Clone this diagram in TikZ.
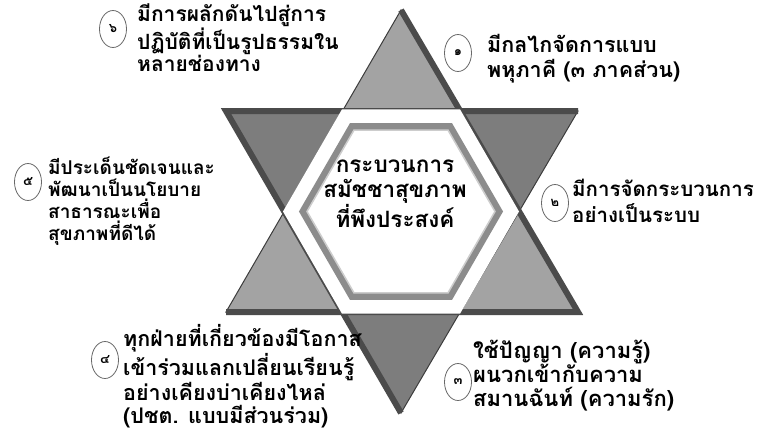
\documentclass[tikz,border=0pt]{standalone}
\usepackage{fontspec}
\usetikzlibrary{shapes.geometric,calc,positioning}
\newfontfamily\thaifont[Script=Thai]{Loma}
\definecolor{LightTri}{RGB}{163,163,163}
\definecolor{DarkTri}{RGB}{125,125,125}
\definecolor{EdgeDark}{RGB}{60,60,60}
\definecolor{BandDark}{RGB}{75,75,75}
\definecolor{FrameGray}{RGB}{140,140,140}
\definecolor{FrameLight}{RGB}{205,205,205}
\definecolor{RingGray}{RGB}{105,105,105}
\tikzset{
  numring/.style={ellipse,draw=RingGray,fill=white,line width=0.8pt,
                  minimum width=27pt,minimum height=37pt,inner sep=0pt,
                  font=\thaifont\bfseries\fontsize{13}{13}\selectfont},
  lbl/.style={anchor=base west,align=left,inner sep=0pt,
              font=\thaifont\bfseries\fontsize{20.5}{24}\selectfont},
  tri/.style={draw=EdgeDark,line width=1pt,line join=miter},
  band/.style={draw=BandDark,line width=6pt,line join=miter},
}
\begin{document}
\begin{tikzpicture}[x=1pt,y=-1pt,
    frameband/.style={draw=FrameGray,line width=7pt,line join=miter},
    core/.style={align=center,inner sep=0pt,anchor=base,
                 font=\thaifont\bfseries\fontsize{22.5}{24.5}\selectfont}
  ]
  \useasboundingbox (0,0) rectangle (757,432);
  % star corners
  \coordinate (ua) at (401,10);
  \coordinate (ul) at (226,312);
  \coordinate (ur) at (578,312);
  \coordinate (dl) at (226,111);
  \coordinate (dr) at (578,111);
  \coordinate (db) at (401,413);
  \coordinate (ctr) at (401,211.5);

  % two big triangles
  \filldraw[tri,fill=LightTri] (ua) -- (ul) -- (ur) -- cycle;
  \filldraw[tri,fill=DarkTri] (dl) -- (dr) -- (db) -- cycle;
  \draw[band] (ua) -- (ur) -- (ul);
  \draw[band] (dr) -- (dl) -- (db);

  % white centre
  \fill[white] ($(ctr)+(0:118)$) -- ($(ctr)+(60:118)$) -- ($(ctr)+(120:118)$)
    -- ($(ctr)+(180:118)$) -- ($(ctr)+(240:118)$) -- ($(ctr)+(300:118)$) -- cycle;

  % grey frame
  \draw[frameband] ($(ctr)+(0:98)$) -- ($(ctr)+(60:98)$) -- ($(ctr)+(120:98)$)
    -- ($(ctr)+(180:98)$) -- ($(ctr)+(240:98)$) -- ($(ctr)+(300:98)$) -- cycle;
  \draw[FrameLight,line width=1.5pt] ($(ctr)+(0:94)$) -- ($(ctr)+(60:94)$) -- ($(ctr)+(120:94)$)
    -- ($(ctr)+(180:94)$) -- ($(ctr)+(240:94)$) -- ($(ctr)+(300:94)$) -- cycle;

  \node[core] (title) at (395,227) {กระบวนการ\\สมัชชาสุขภาพ\\ที่พึงประสงค์};

  % numbered notes
  \node[numring] (n1) at (458,53) {๑};
  \node[lbl,font=\thaifont\bfseries\fontsize{21.5}{25}\selectfont] (t1) at (487,77) {มีกลไกจัดการแบบ\\พหุภาคี (๓ ภาคส่วน)};

  \node[numring] (n2) at (555,203) {๒};
  \node[lbl,font=\thaifont\bfseries\fontsize{20.5}{26}\selectfont] (t2) at (572,222) {มีการจัดกระบวนการ\\อย่างเป็นระบบ};

  \node[numring] (n3) at (458,382) {๓};
  \node[lbl,font=\thaifont\bfseries\fontsize{22}{24}\selectfont] (t3) at (473,406) {ใช้ปัญญา (ความรู้)\\ผนวกเข้ากับความ\\สมานฉันท์ (ความรัก)};

  \node[numring] (n4) at (105,360) {๔};
  \node[lbl,font=\thaifont\bfseries\fontsize{21.5}{23}\selectfont] (t4) at (123,423) {ทุกฝ่ายที่เกี่ยวข้องมีโอกาส\\เข้าร่วมแลกเปลี่ยนเรียนรู้\\อย่างเคียงบ่าเคียงไหล่\\(ปชต. แบบมีส่วนร่วม)};

  \node[numring] (n5) at (28,182) {๕};
  \node[lbl,font=\thaifont\bfseries\fontsize{19}{21.7}\selectfont] (t5) at (48,240) {มีประเด็นชัดเจนและ\\พัฒนาเป็นนโยบาย\\สาธารณะเพื่อ\\สุขภาพที่ดีได้};

  \node[numring] (n6) at (113,29) {๖};
  \node[lbl,font=\thaifont\bfseries\fontsize{21}{21.7}\selectfont] (t6) at (137,71) {มีการผลักดันไปสู่การ\\ปฏิบัติที่เป็นรูปธรรมใน\\หลายช่องทาง};
\end{tikzpicture}
\end{document}
